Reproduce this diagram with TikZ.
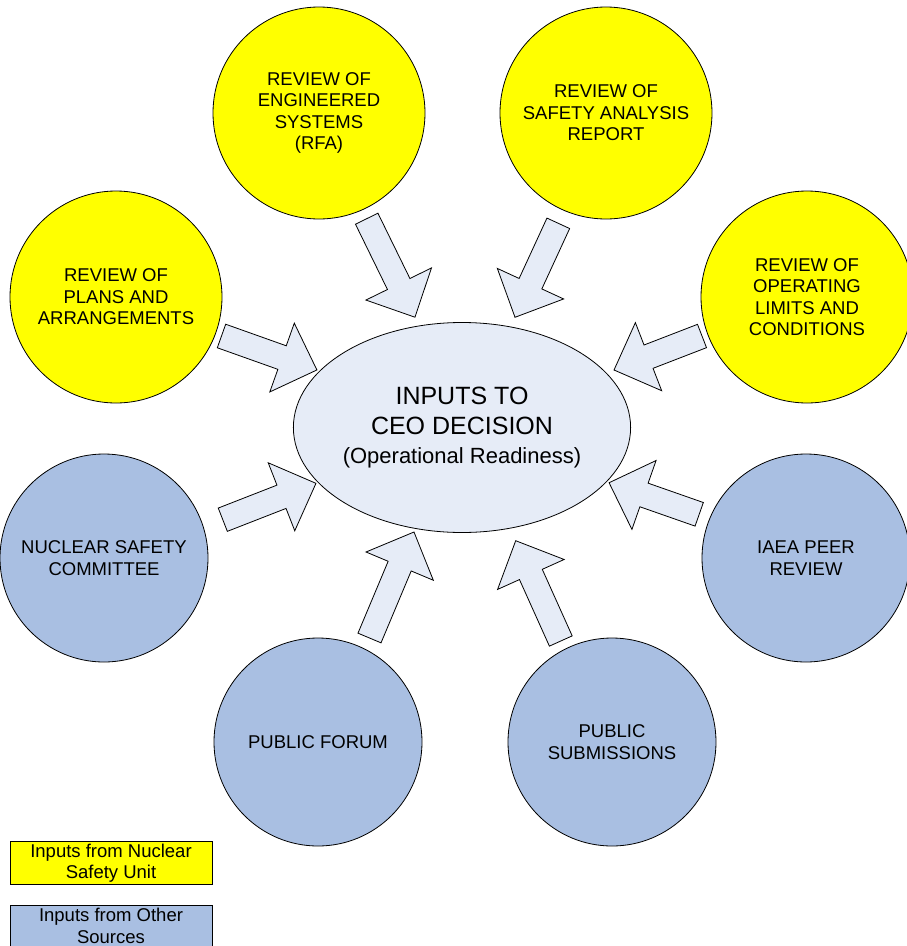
\documentclass[tikz,border=0pt]{standalone}
\usepackage{fontspec}
\setmainfont{Liberation Sans}
\usetikzlibrary{calc, shapes.geometric}
\definecolor{nsuyellow}{HTML}{FFFF00}
\definecolor{otherblue}{HTML}{A9BFE2}
\definecolor{inputfill}{HTML}{E6ECF7}
\newcommand*{\inarrow}[2]{%
  \draw[blockarrow] let \p1=($(#2)-(#1)$), \n1={atan2(\y1,\x1)},
      \n2={veclen(\x1,\y1)}, \n3={veclen(\x1,\y1)-37} in
    [shift={(#1)}, rotate=\n1]
    (0pt,12.5pt) -- (\n3,12.5pt) -- (\n3,36.5pt) -- (\n2,0pt)
    -- (\n3,-36.5pt) -- (\n3,-12.5pt) -- (0pt,-12.5pt) -- cycle;}

\begin{document}
\begin{tikzpicture}[x=1pt, y=-1pt,
      every node/.style={font=\fontsize{18.5}{21.5}\selectfont, align=center},
      review/.style={circle, draw, line width=0.8pt, fill=nsuyellow, minimum size=212pt, inner sep=0pt},
      other/.style={review, fill=otherblue, minimum size=208pt},
      blockarrow/.style={draw, line width=0.8pt, fill=inputfill, line join=miter},
      legend/.style={draw, line width=0.8pt, minimum width=202pt, inner sep=2pt}]
      \useasboundingbox (0,0) rectangle (906,946);

      % inputs from the nuclear safety unit
      \node[review] (rfa)   at (319,113) {REVIEW OF\\ENGINEERED\\SYSTEMS\\(RFA)};
      \node[review] (sar)   at (606,113) {REVIEW OF\\SAFETY ANALYSIS\\REPORT};
      \node[review] (plans) at (116,297) {REVIEW OF\\PLANS AND\\ARRANGEMENTS};
      \node[review] (olc)   at (807,297) {REVIEW OF\\OPERATING\\LIMITS AND\\CONDITIONS};

      % inputs from other sources
      \node[other] (nsc)   at (104,558) {NUCLEAR SAFETY\\COMMITTEE};
      \node[other] (iaea)  at (806,558) {IAEA PEER\\REVIEW};
      \node[other] (forum) at (318,742) {PUBLIC FORUM};
      \node[other] (subm)  at (612,742) {PUBLIC\\SUBMISSIONS};

      \coordinate (rfa_t)   at (366.7,218.7); \coordinate (rfa_h)   at (415,317.3);
      \coordinate (sar_t)   at (558.3,223.3); \coordinate (sar_h)   at (515,317.3);
      \coordinate (plans_t) at (221.5,336);   \coordinate (plans_h) at (317,370);
      \coordinate (olc_t)   at (702,336);     \coordinate (olc_h)   at (614,370);
      \coordinate (nsc_t)   at (222.8,519.7); \coordinate (nsc_h)   at (316,483.3);
      \coordinate (iaea_t)  at (699.2,514.3); \coordinate (iaea_h)  at (609,482.7);
      \coordinate (forum_t) at (369.5,638);   \coordinate (forum_h) at (414,532);
      \coordinate (subm_t)  at (560.8,641);   \coordinate (subm_h)  at (515.7,540.7);
      \foreach \src in {rfa,sar,plans,olc,nsc,iaea,forum,subm}
        \inarrow{\src_t}{\src_h};

      \node[ellipse, draw, line width=0.8pt, fill=inputfill, minimum width=318pt,
        minimum height=210pt, inner sep=0pt, font=\fontsize{25}{30.5}\selectfont] (ceo) at (462,427.5)
        {INPUTS TO\\CEO DECISION\\[-1.5pt]{\fontsize{22}{29}\selectfont (Operational Readiness)}};

      % legend
      \node[legend, fill=nsuyellow, minimum height=42pt] (leg_nsu) at (111,863)
        {Inputs from Nuclear\\Safety Unit};
      \node[legend, fill=otherblue, anchor=north, inner ysep=3pt] (leg_other) at (111,905)
        {Inputs from Other\\Sources};
    \end{tikzpicture}
\end{document}
